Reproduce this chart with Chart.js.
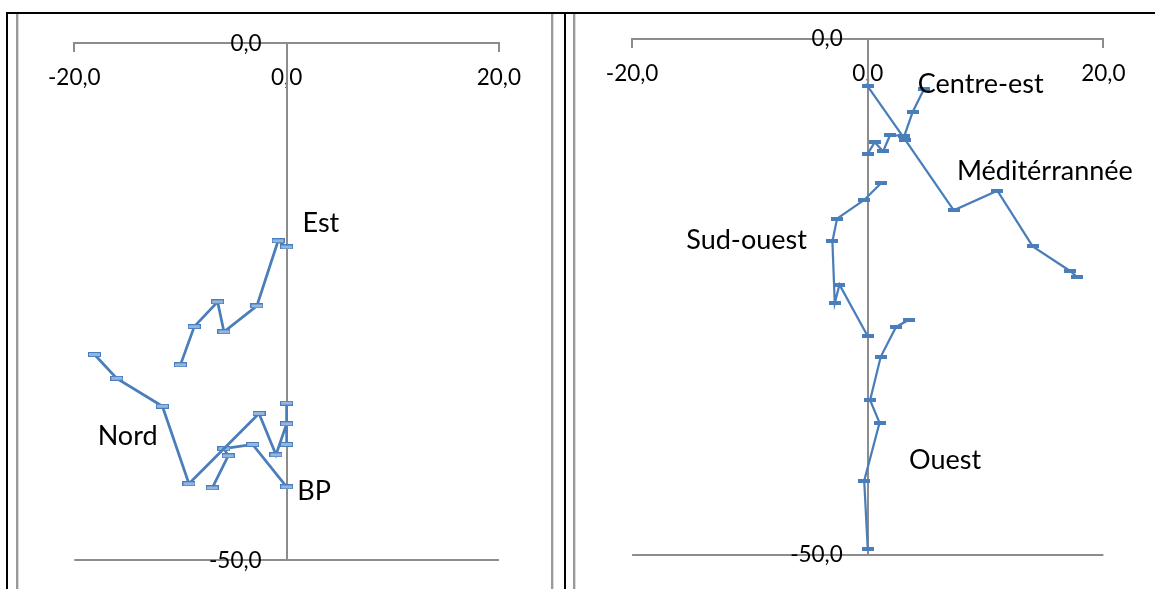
<!DOCTYPE html>
<html>
<head>
<meta charset="utf-8">
<script src="https://cdn.jsdelivr.net/npm/chart.js@4.4.0/dist/chart.umd.min.js"></script>
<style>
  html, body { margin: 0; padding: 0; background: #fff; }
  body { width: 1155px; height: 589px; position: relative; overflow: hidden; }
  .blk { position: absolute; background: #000; }
  .gry { position: absolute; background: #9a9a9a; box-shadow: 1px 0 0 #dcdcdc; }
  canvas { position: absolute; }
</style>
</head>
<body>
<div class="blk" style="left:6px; top:12px; width:1149px; height:2px"></div>
<div class="blk" style="left:6px; top:12px; width:2px; height:577px"></div>
<div class="blk" style="left:564px; top:12px; width:2px; height:577px"></div>
<div class="gry" style="left:16px; top:14px; width:2px; height:575px"></div>
<div class="gry" style="left:551px; top:14px; width:2px; height:575px"></div>
<div class="gry" style="left:573px; top:14px; width:2px; height:575px"></div>

<canvas id="chartLeft" width="533" height="575" style="left:18px; top:14px"></canvas>
<canvas id="chartRight" width="580" height="575" style="left:575px; top:14px"></canvas>

<script>
// --- tick labels ---
const xTickLabels = ["-20,0", "0,0", "20,0"];
const yTickLabels = ["0,0", "-50,0"];

// --- panneau gauche ---
const estX = [0.0, -0.8, -2.8, -5.9, -6.5, -8.7, -10.0];
const estY = [-19.7, -19.1, -25.4, -27.9, -25.0, -27.4, -31.1];

const nordX = [-18.1, -16.0, -11.7, -9.2, -2.6, -1.0, 0.0, 0.0, 0.0];
const nordY = [-30.1, -32.4, -35.1, -42.6, -35.8, -39.8, -36.8, -34.8, -38.8];

const bpX = [-7.0, -5.5, -5.9, -3.2, 0.0];
const bpY = [-43.0, -39.9, -39.2, -38.8, -42.9];

// --- panneau droit ---
const centreEstX = [4.8, 3.8, 3.1, 1.9, 1.3, 0.6, 0.0];
const centreEstY = [-4.8, -7.1, -9.4, -9.3, -10.9, -10.0, -11.1];

const mediterraneeX = [0.0, 3.2, 7.3, 11.0, 14.0, 17.2, 17.8];
const mediterraneeY = [-4.6, -9.8, -16.6, -14.7, -20.1, -22.5, -23.1];

const sudOuestX = [1.1, -0.3, -2.6, -3.0, -2.8, -2.4, 0.0];
const sudOuestY = [-14.0, -15.6, -17.4, -19.6, -25.6, -23.8, -28.8];

const ouestX = [3.5, 2.4, 1.1, 0.2, 1.0, -0.3, 0.0];
const ouestY = [-27.2, -27.9, -30.8, -35.0, -37.2, -42.8, -49.4];

// --- étiquettes des séries (x, y = bord gauche du texte) ---
const leftLabels = [
  { text: "Est", x: 1.5, y: -17.4 },
  { text: "Nord", x: -17.8, y: -38.0 },
  { text: "BP", x: 1.0, y: -43.3 }
];
const rightLabels = [
  { text: "Centre-est", x: 4.25, y: -4.4 },
  { text: "Méditérrannée", x: 7.57, y: -12.8 },
  { text: "Sud-ouest", x: -15.4, y: -19.5 },
  { text: "Ouest", x: 3.5, y: -40.8 }
];

const BLUE = "#4a7ebb";
const AXIS = "#8c8c8c";

Chart.defaults.font.family = "Lato";
Chart.defaults.font.size = 22.5;
Chart.defaults.color = "#000";

// petit marqueur "tiret" façon Excel
function dashMarker(w, h, fill, stroke) {
  const c = document.createElement("canvas");
  c.width = w; c.height = h;
  const g = c.getContext("2d");
  g.fillStyle = fill;
  g.fillRect(0, 0, w, h);
  if (stroke) {
    g.strokeStyle = stroke;
    g.lineWidth = 1;
    g.strokeRect(0.5, 0.5, w - 1, h - 1);
  }
  return c;
}

const markerLeft = dashMarker(13, 5, "#94b5de", BLUE);
const markerRight = dashMarker(12, 4, BLUE, null);

function toPoints(xs, ys) {
  return xs.map((x, i) => ({ x: x, y: ys[i] }));
}

function serie(xs, ys, marker, width) {
  return {
    data: toPoints(xs, ys),
    showLine: true,
    borderColor: BLUE,
    borderWidth: width,
    pointStyle: marker,
    pointRadius: 6,
    tension: 0
  };
}

// textes posés sur le graphique + étiquettes de l'axe vertical
const textLabels = {
  id: "textLabels",
  afterDatasetsDraw(chart, args, opts) {
    const ctx = chart.ctx;
    const xs = chart.scales.x, ys = chart.scales.y;
    ctx.save();
    ctx.fillStyle = "#000";
    ctx.textBaseline = "middle";

    // étiquettes de l'axe Y, à gauche de l'axe (comme Excel)
    ctx.font = "22.5px Lato";
    ctx.textAlign = "right";
    const axisX = xs.getPixelForValue(0);
    ys.ticks.forEach((t, i) => {
      ctx.fillText(yTickLabels[i === 0 ? 1 : 0], axisX - 25, ys.getPixelForValue(t.value));
    });

    ctx.font = "27px Lato";
    ctx.textAlign = "left";
    opts.items.forEach(l => {
      ctx.fillText(l.text, xs.getPixelForValue(l.x), ys.getPixelForValue(l.y));
    });
    ctx.restore();
  }
};

function makeChart(id, datasets, labels, padding) {
  const ctx = document.getElementById(id).getContext("2d");
  return new Chart(ctx, {
    type: "scatter",
    data: { datasets: datasets },
    options: {
      responsive: false,
      animation: false,
      layout: { padding: padding },
      plugins: {
        legend: { display: false },
        tooltip: { enabled: false },
        textLabels: { items: labels }
      },
      scales: {
        x: {
          type: "linear",
          position: { y: 0 },
          min: -20, max: 20,
          grid: { drawOnChartArea: false, drawTicks: true, tickLength: 8, color: AXIS, lineWidth: 2 },
          border: { display: true, color: AXIS, width: 2 },
          ticks: {
            stepSize: 20,
            padding: 13,
            maxRotation: 0,
            autoSkip: false,
            callback: (v) => xTickLabels[Math.round((v + 20) / 20)]
          }
        },
        y: {
          type: "linear",
          position: { x: 0 },
          min: -50, max: 0,
          grid: { drawOnChartArea: true, drawTicks: false, color: AXIS, lineWidth: 2 },
          border: { display: true, color: AXIS, width: 2 },
          ticks: { stepSize: 50, display: false }
        }
      }
    },
    plugins: [textLabels]
  });
}

makeChart("chartLeft", [
  serie(estX, estY, markerLeft, 2.75),
  serie(nordX, nordY, markerLeft, 2.75),
  serie(bpX, bpY, markerLeft, 2.75)
], leftLabels, { left: 56.3, right: 52.1, top: 29.3, bottom: 28.7 });

makeChart("chartRight", [
  serie(centreEstX, centreEstY, markerRight, 2.25),
  serie(mediterraneeX, mediterraneeY, markerRight, 2.25),
  serie(sudOuestX, sudOuestY, markerRight, 2.25),
  serie(ouestX, ouestY, markerRight, 2.25)
], rightLabels, { left: 57.1, right: 51.6, top: 25, bottom: 34 });
</script>
</body>
</html>
